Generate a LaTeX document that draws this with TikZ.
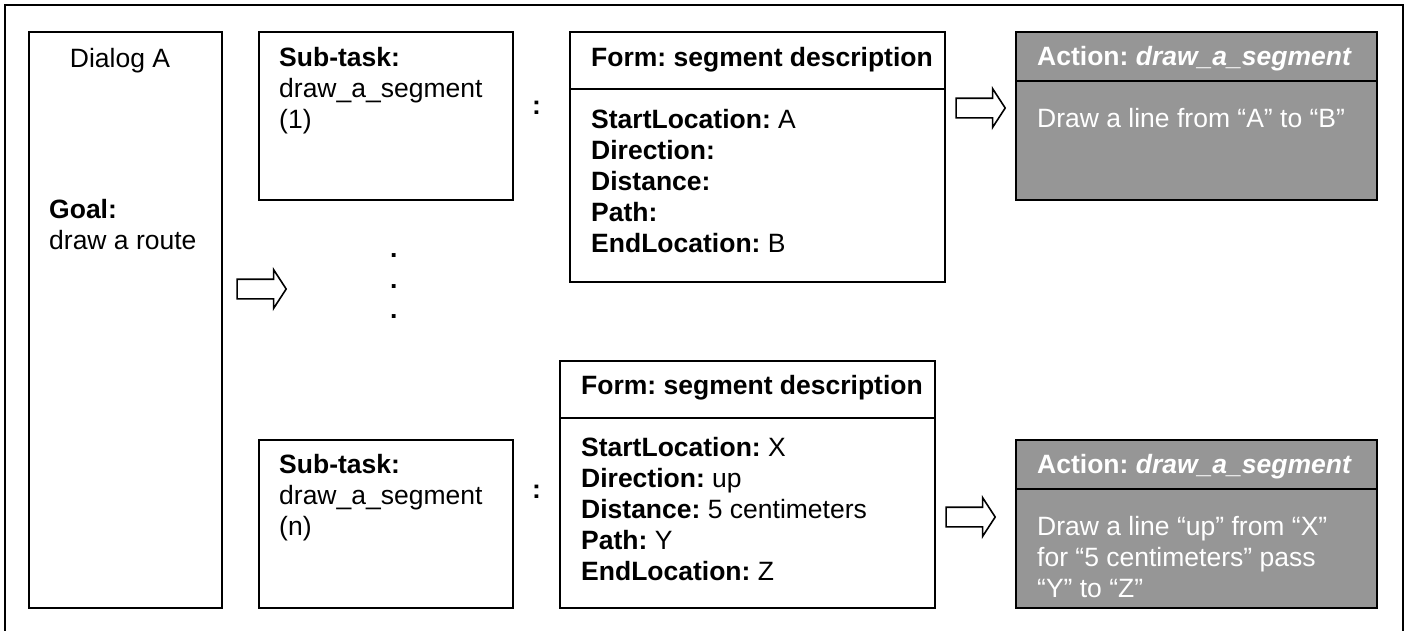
\documentclass[tikz,border=0pt]{standalone}
\usepackage{fontspec}
\setmainfont{Liberation Sans}
\usetikzlibrary{shapes.arrows}
\frenchspacing
\definecolor{actiongray}{RGB}{150,150,150}
\tikzset{
  panel/.style={draw, line width=2pt, inner sep=0pt, anchor=north west},
  actpanel/.style={panel, fill=actiongray},
  txt/.style={anchor=base west, inner sep=0pt, align=left, font=\fontsize{26.5}{31}\selectfont},
  whitetxt/.style={txt, text=white},
  fatarrow/.style={single arrow, draw, line width=1.6pt, inner xsep=0pt, inner ysep=9pt,
    minimum height=49pt, single arrow head extend=9.5pt, single arrow tip angle=114},
}
\begin{document}
\begin{tikzpicture}[x=1pt,y=-1pt]
            \useasboundingbox (0,0) rectangle (1408,630);
            \fill [white] (0,0) rectangle (1408,630);
            % outer frame, runs off the bottom
            \draw [line width=2pt] (5,640) -- (5,5) -- (1403,5) -- (1403,640);

            % Dialog box (multi-line texts sit on their last baseline)
            \node [panel, minimum width=193pt, minimum height=576pt] (dialog) at (28,31) {};
            \node [txt, anchor=base] (dialogname) at (120,67) {Dialog A};
            \node [txt] (goal) at (49,249) {\textbf{Goal:}\\draw a route};

            % Sub-task boxes
            \node [panel, minimum width=254pt, minimum height=168pt] (subone) at (258,31) {};
            \node [txt] (subonetext) at (279,128) {\textbf{Sub-task:}\\draw\_a\_segment\\(1)};
            \node [panel, minimum width=254pt, minimum height=168pt] (subn) at (258,439) {};
            \node [txt] (subntext) at (279,535) {\textbf{Sub-task:}\\draw\_a\_segment\\(n)};

            % colons and dots
            \node [txt] (colonone) at (532,114) {\textbf{:}};
            \node [txt] (colonn) at (532,498) {\textbf{:}};
            \node [txt] (dotone) at (390,257) {\textbf{.}};
            \node [txt] (dottwo) at (390,288) {\textbf{.}};
            \node [txt] (dotthree) at (390,318) {\textbf{.}};

            % Form 1
            \node [panel, minimum width=375pt, minimum height=250pt] (formone) at (569,31) {};
            \draw [line width=2pt] (formone.west |- 0,89) -- (formone.east |- 0,89);
            \node [txt] (formonetitle) at (591,66) {\textbf{Form: segment description}};
            \node [txt] (formonebody) at (591,252) {\textbf{StartLocation:} A\\\textbf{Direction:}\\\textbf{Distance:}\\\textbf{Path:}\\\textbf{EndLocation:} B};

            % Form 2
            \node [panel, minimum width=375pt, minimum height=247pt] (formtwo) at (559,360) {};
            \draw [line width=2pt] (formtwo.west |- 0,418) -- (formtwo.east |- 0,418);
            \node [txt] (formtwotitle) at (581,394) {\textbf{Form: segment description}};
            \node [txt] (formtwobody) at (581,580) {\textbf{StartLocation:} X\\\textbf{Direction:} up\\\textbf{Distance:} 5 centimeters\\\textbf{Path:} Y\\\textbf{EndLocation:} Z};

            % Action 1
            \node [actpanel, minimum width=361pt, minimum height=168pt] (actone) at (1015,31) {};
            \draw [line width=2pt] (actone.west |- 0,81) -- (actone.east |- 0,81);
            \node [whitetxt] (actonetitle) at (1037,65) {\textbf{Action: \textit{draw\_a\_segment}}};
            \node [whitetxt] (actonebody) at (1037,127) {Draw a line from “A” to “B”};

            % Action 2
            \node [actpanel, minimum width=361pt, minimum height=168pt] (acttwo) at (1015,439) {};
            \draw [line width=2pt] (acttwo.west |- 0,489) -- (acttwo.east |- 0,489);
            \node [whitetxt] (acttwotitle) at (1037,473) {\textbf{Action: \textit{draw\_a\_segment}}};
            \node [whitetxt] (acttwobody) at (1037,597) {Draw a line “up” from “X”\\for “5 centimeters” pass\\“Y” to “Z”};

            % hollow arrows
            \node [fatarrow] (arrowgoal) at (258.5,289) {};
            \node [fatarrow] (arrowone) at (977.5,108) {};
            \node [fatarrow] (arrowtwo) at (967.5,517) {};
        \end{tikzpicture}
\end{document}
